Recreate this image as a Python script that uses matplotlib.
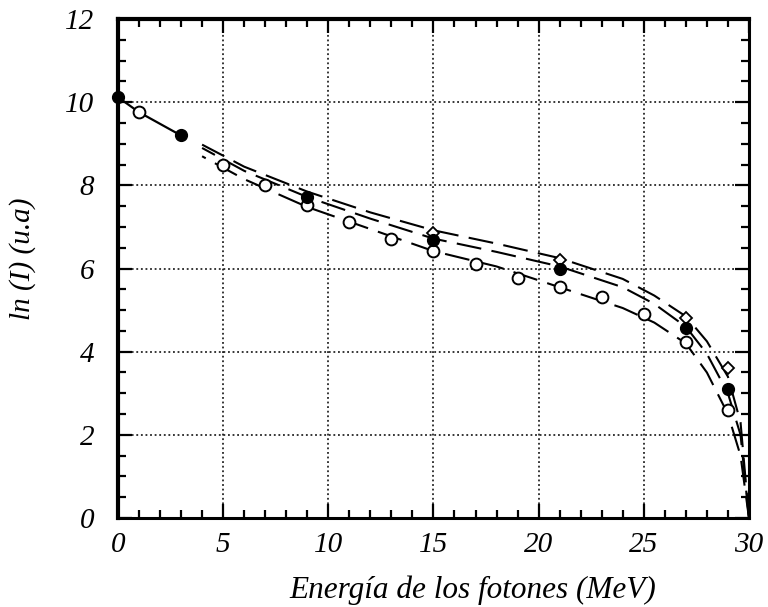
import matplotlib
matplotlib.use("Agg")
import matplotlib.pyplot as plt
from matplotlib.ticker import MultipleLocator

plt.rcParams['font.family'] = ['Liberation Serif', 'DejaVu Serif']

# Measured points
x_open = [1, 5, 7, 9, 11, 13, 15, 17, 19, 21, 23, 25, 27, 29]
y_open = [9.76, 8.5, 8.0, 7.52, 7.11, 6.72, 6.41, 6.1, 5.78, 5.56, 5.32, 4.9, 4.24, 2.6]

x_filled = [0, 3, 9, 15, 21, 27, 29]
y_filled = [10.12, 9.2, 7.73, 6.68, 6.0, 4.58, 3.1]

x_diamond = [15, 21, 27, 29]
y_diamond = [6.85, 6.2, 4.8, 3.6]

# Initial solid segment
x_start = [0, 1, 3]
y_start = [10.12, 9.76, 9.2]

# Calculated curves (dashed)
x_curve = [4, 6, 9, 12, 15, 18, 21, 24, 25.5, 27, 28, 29, 29.6, 30]
y_upper = [8.98, 8.45, 7.85, 7.35, 6.92, 6.6, 6.25, 5.75, 5.35, 4.85, 4.25, 3.4, 2.3, 0.0]
y_middle = [8.9, 8.35, 7.72, 7.2, 6.72, 6.4, 6.05, 5.55, 5.15, 4.6, 3.95, 3.0, 2.0, 0.0]
y_lower = [8.7, 8.15, 7.48, 6.95, 6.42, 6.05, 5.55, 5.05, 4.7, 4.2, 3.5, 2.5, 1.5, 0.0]

x_ticks = [0, 5, 10, 15, 20, 25, 30]
y_ticks = [0, 2, 4, 6, 8, 10, 12]

fig = plt.figure(figsize=(7.68, 6.07), dpi=100)
ax = fig.add_axes([0.1536, 0.1466, 0.8216, 0.822])

ax.plot(x_curve, y_upper, color='black', lw=1.5, linestyle=(0, (12, 5)))
ax.plot(x_curve, y_middle, color='black', lw=1.5, linestyle=(5, (12, 5)))
ax.plot(x_curve, y_lower, color='black', lw=1.5, linestyle=(10, (12, 5)))
ax.plot(x_start, y_start, color='black', lw=1.6, solid_capstyle='butt')

ax.plot(x_open, y_open, linestyle='none', marker='o', ms=8.5,
        mfc='white', mec='black', mew=1.4, zorder=5)
ax.plot(x_diamond, y_diamond, linestyle='none', marker='D', ms=6,
        mfc='white', mec='black', mew=1.3, zorder=5)
ax.plot(x_filled, y_filled, linestyle='none', marker='o', ms=8.5,
        mfc='black', mec='black', zorder=6, clip_on=False)

ax.set_xlim(0, 30)
ax.set_ylim(0, 12)
ax.set_xticks(x_ticks)
ax.set_yticks(y_ticks)
ax.xaxis.set_minor_locator(MultipleLocator(1))
ax.yaxis.set_minor_locator(MultipleLocator(0.5))

ax.grid(True, which='major', color='black', linestyle=(0, (1.2, 1.8)), lw=1.1)

ax.tick_params(which='both', direction='in', top=True, right=True, width=1.6,
               colors='black', labelsize=21)
ax.tick_params(axis='x', which='major', pad=10)
ax.tick_params(axis='y', which='major', pad=17)
ax.tick_params(which='major', length=10)
ax.tick_params(which='minor', length=6)

for lab in ax.get_xticklabels() + ax.get_yticklabels():
    lab.set_fontstyle('italic')

ax.spines['left'].set_linewidth(3)
ax.spines['top'].set_linewidth(3)
ax.spines['bottom'].set_linewidth(2.2)
ax.spines['right'].set_linewidth(2.2)

ax.set_xlabel('Energía de los fotones (MeV)', fontsize=22.5, fontstyle='italic',
              va='center')
ax.xaxis.set_label_coords(0.562, -0.144)
ax.set_ylabel('ln (I) (u.a)', fontsize=21, fontstyle='italic', va='center')
ax.yaxis.set_label_coords(-0.151, 0.52)

fig.savefig('out.png', dpi=100)
